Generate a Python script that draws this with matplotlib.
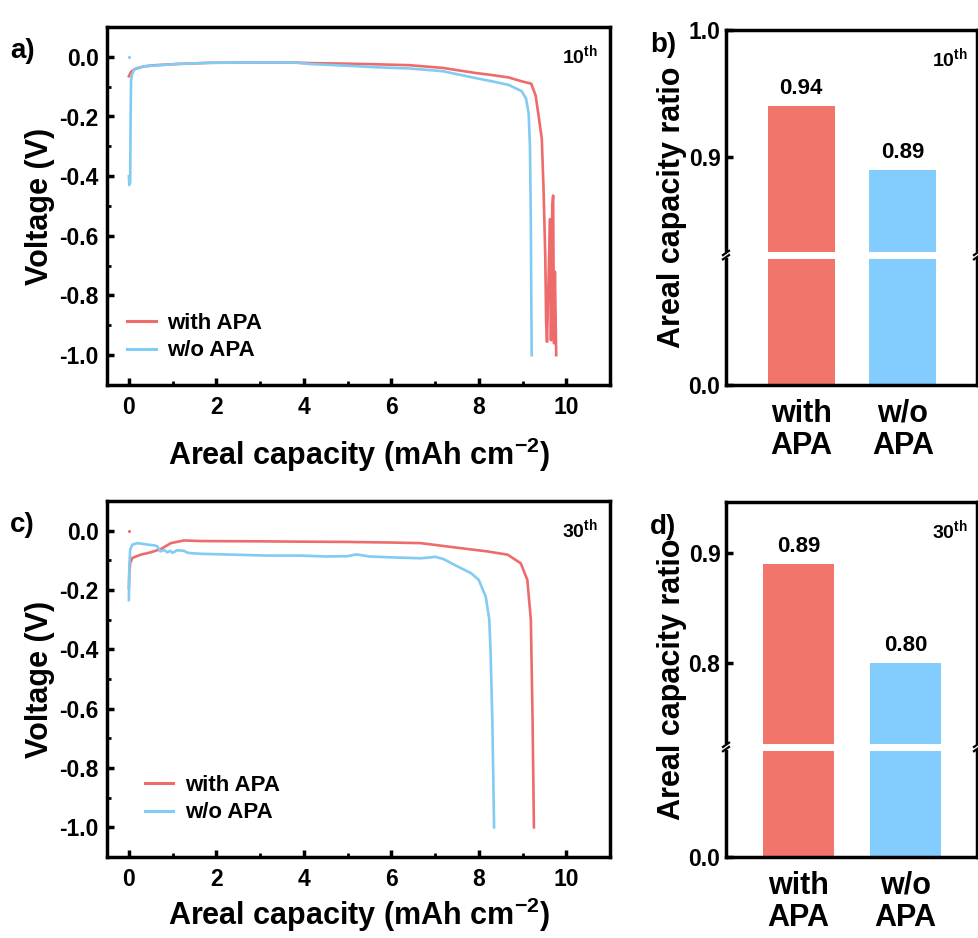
import numpy as np
import matplotlib
matplotlib.use("Agg")
import matplotlib.pyplot as plt
from matplotlib.ticker import MultipleLocator, FixedLocator

plt.rcParams['font.family'] = ['Liberation Sans', 'DejaVu Sans']
plt.rcParams['font.weight'] = 'bold'
plt.rcParams['mathtext.fontset'] = 'custom'
plt.rcParams['mathtext.rm'] = 'Liberation Sans:bold'
plt.rcParams['mathtext.bf'] = 'Liberation Sans:bold'
plt.rcParams['mathtext.it'] = 'Liberation Sans:bold'
plt.rcParams['axes.linewidth'] = 2.5

RED = '#EE6B6B'
BLUE = '#82CBF2'
BAR_RED = '#F1756A'
BAR_BLUE = '#82CDFE'

# ---------------- data ----------------
series_labels = ['with APA', 'w/o APA']
bar_categories = ['with\nAPA', 'w/o\nAPA']

# panel a (10th cycle)
a_red_x = [0.0, 0.05, 0.15, 0.34, 0.6, 1.1, 1.86, 2.85, 3.76, 4.14, 5.0, 5.66, 6.41, 7.17, 7.92,
           8.3, 8.68, 8.98, 9.2, 9.3, 9.37, 9.44, 9.48, 9.52, 9.54, 9.56, 9.61, 9.63, 9.65,
           9.68, 9.70, 9.72, 9.74, 9.77]
a_red_y = [-0.065, -0.05, -0.04, -0.032, -0.028, -0.024, -0.020, -0.019, -0.019, -0.021, -0.023,
           -0.025, -0.028, -0.037, -0.054, -0.061, -0.069, -0.082, -0.09, -0.13, -0.2, -0.274,
           -0.44, -0.668, -0.89, -0.955, -0.656, -0.544, -0.95, -0.5, -0.465, -0.96, -0.72, -1.0]
a_blue_x = [0.0, 0.01, 0.03, 0.04, 0.05, 0.07, 0.12, 0.34, 1.1, 1.86, 2.85, 3.76, 4.14, 5.0,
            5.66, 6.41, 7.17, 7.92, 8.3, 8.68, 8.98, 9.08, 9.14, 9.17, 9.19, 9.2, 9.21]
a_blue_y = [-0.40, -0.43, -0.42, -0.20, -0.08, -0.06, -0.043, -0.032, -0.024, -0.020, -0.019,
            -0.019, -0.024, -0.030, -0.035, -0.039, -0.048, -0.071, -0.082, -0.094, -0.115,
            -0.14, -0.19, -0.30, -0.55, -0.8, -1.0]
a_dot = (0.0, 0.0)   # isolated blue point

# panel c (30th cycle)
c_red_x = [0.0, 0.01, 0.03, 0.08, 0.27, 0.5, 0.73, 0.96, 1.26, 1.65, 3.0, 3.93, 5.0, 6.0, 6.67,
           7.59, 8.2, 8.66, 8.96, 9.11, 9.19, 9.23, 9.26]
c_red_y = [-0.193, -0.14, -0.109, -0.092, -0.081, -0.073, -0.062, -0.042, -0.033, -0.035, -0.036,
           -0.037, -0.038, -0.040, -0.042, -0.059, -0.07, -0.081, -0.11, -0.166, -0.30, -0.64, -1.0]
c_blue_x = [0.0, 0.01, 0.03, 0.08, 0.2, 0.43, 0.6, 0.65, 0.72, 0.8, 0.88, 0.95, 1.0, 1.1, 1.26,
            1.35, 1.65, 2.41, 3.17, 3.93, 4.5, 5.0, 5.2, 5.5, 6.0, 6.67, 6.9, 7.0, 7.1, 7.2,
            7.44, 7.82, 8.0, 8.16, 8.24, 8.27, 8.31, 8.35]
c_blue_y = [-0.234, -0.12, -0.064, -0.047, -0.042, -0.047, -0.05, -0.053, -0.07, -0.065, -0.073,
            -0.068, -0.075, -0.066, -0.068, -0.075, -0.078, -0.081, -0.084, -0.084, -0.087,
            -0.086, -0.08, -0.087, -0.09, -0.093, -0.09, -0.088, -0.092, -0.096, -0.115, -0.143,
            -0.166, -0.223, -0.30, -0.41, -0.64, -1.0]
c_dot = (0.0, 0.0)   # isolated red point

# bar panels
b_values = [0.94, 0.89]
d_values = [0.89, 0.80]
b_ticks = [0.0, 0.9, 1.0]
d_ticks = [0.0, 0.8, 0.9]

# ---------------- figure ----------------
W, H = 979, 938
fig = plt.figure(figsize=(W / 100, H / 100), dpi=100)


def fr(l, t, r, b):
    return [l / W, 1 - b / H, (r - l) / W, (b - t) / H]


ax_a = fig.add_axes(fr(107, 27, 610, 385))
ax_c = fig.add_axes(fr(107, 501, 610, 857))
ax_b = fig.add_axes(fr(726, 30, 977, 385))
ax_d = fig.add_axes(fr(726, 502, 977, 857))

TICK_FS = 16.5
LABEL_FS = 22


def style_curve(ax, rx, ry, bx, by, dot, dotcolor, cyc, xlabelpad, legpos):
    ax.plot(rx, ry, color=RED, lw=1.9, label=series_labels[0], zorder=3)
    ax.plot(bx, by, color=BLUE, lw=1.9, label=series_labels[1], zorder=3)
    ax.plot([dot[0]], [dot[1]], 'o', ms=2.2, color=dotcolor, mec='none')
    ax.set_xlim(-0.5, 11)
    ax.set_ylim(-1.1, 0.1)
    ax.xaxis.set_major_locator(FixedLocator([0, 2, 4, 6, 8, 10]))
    ax.xaxis.set_minor_locator(MultipleLocator(1))
    ax.yaxis.set_major_locator(FixedLocator([-1.0, -0.8, -0.6, -0.4, -0.2, 0.0]))
    ax.yaxis.set_minor_locator(MultipleLocator(0.1))
    ax.tick_params(which='major', direction='in', length=5, width=2.5, labelsize=TICK_FS, pad=6)
    ax.tick_params(which='minor', direction='in', length=3, width=2)
    ax.tick_params(axis='x', which='major', pad=8)
    ax.set_yticklabels(['-1.0', '-0.8', '-0.6', '-0.4', '-0.2', '0.0'])
    ax.set_xlabel(r'Areal capacity (mAh cm$^{-2}$)', fontsize=LABEL_FS, fontweight='bold',
                  labelpad=xlabelpad)
    ax.set_ylabel('Voltage (V)', fontsize=LABEL_FS, fontweight='bold', labelpad=3)
    ax.text(0.975, 0.955, r'%s$^{\mathrm{th}}$' % cyc, transform=ax.transAxes, ha='right', va='top',
            fontsize=14, fontweight='bold')
    leg = ax.legend(loc='lower left', bbox_to_anchor=legpos, frameon=False,
                    prop={'size': 16, 'weight': 'bold'}, handlelength=1.3, handletextpad=0.5,
                    labelspacing=0.3)
    for ln in leg.get_lines():
        ln.set_linewidth(2.2)


style_curve(ax_a, a_red_x, a_red_y, a_blue_x, a_blue_y, a_dot, BLUE, '10', 12, (0.0, 0.01))
style_curve(ax_c, c_red_x, c_red_y, c_blue_x, c_blue_y, c_dot, RED, '30', 3, (0.035, 0.038))


def style_bar(ax, vals, ticks, brk, top, p, xl, cyc):
    def fwd(v):
        v = np.asarray(v, dtype=float)
        return np.where(v <= brk, v / brk * p, p + (v - brk) / (top - brk) * (1 - p))

    def inv(y):
        y = np.asarray(y, dtype=float)
        return np.where(y <= p, y / p * brk, brk + (y - p) / (1 - p) * (top - brk))

    ax.set_yscale('function', functions=(fwd, inv))
    ax.bar([1, 2], vals, width=0.66, color=[BAR_RED, BAR_BLUE], zorder=1)
    ax.set_ylim(0, top)
    ax.set_xlim(*xl)
    ax.axhline(brk, color='white', lw=5, zorder=1.5)
    for x, v in zip([1, 2], vals):
        ax.annotate('%.2f' % v, (x, v), xytext=(0, 5), textcoords='offset points',
                    ha='center', va='bottom', fontsize=16, fontweight='bold')
    ax.yaxis.set_major_locator(FixedLocator(ticks))
    ax.yaxis.set_minor_locator(FixedLocator([]))
    ax.set_yticklabels(['%.1f' % t for t in ticks])
    ax.tick_params(axis='y', which='major', direction='in', length=5, width=2.5,
                   labelsize=TICK_FS, pad=4)
    ax.set_xticks([1, 2])
    ax.set_xticklabels(bar_categories, fontsize=LABEL_FS, fontweight='bold', linespacing=1.1)
    ax.tick_params(axis='x', length=0, pad=10)
    ax.set_ylabel('Areal capacity ratio', fontsize=LABEL_FS, fontweight='bold', labelpad=1)
    ax.text(0.965, 0.955, r'%s$^{\mathrm{th}}$' % cyc, transform=ax.transAxes, ha='right', va='top',
            fontsize=14, fontweight='bold')
    # break marks on the spines
    for xs in (0.0, 1.0):
        ax.plot([xs, xs], [p - 0.008, p + 0.008], transform=ax.transAxes, color='white',
                lw=4, clip_on=False, zorder=5, solid_capstyle='butt')
        for dy in (-0.006, 0.006):
            ax.plot([xs - 0.012, xs + 0.012], [p + dy - 0.006, p + dy + 0.006],
                    transform=ax.transAxes, color='black', lw=1.6, clip_on=False, zorder=6)


style_bar(ax_b, b_values, b_ticks, 0.823, 1.0, 0.366, (0.26, 2.73), '10')
style_bar(ax_d, d_values, d_ticks, 0.724, 0.946, 0.31, (0.32, 2.67), '30')

# panel letters
for txt, x, y in [('a)', 10, 58), ('b)', 650, 52), ('c)', 10, 532), ('d)', 650, 534)]:
    fig.text(x / W, 1 - y / H, txt, fontsize=20, fontweight='bold', ha='left', va='baseline')

fig.savefig('out.png', dpi=100)
